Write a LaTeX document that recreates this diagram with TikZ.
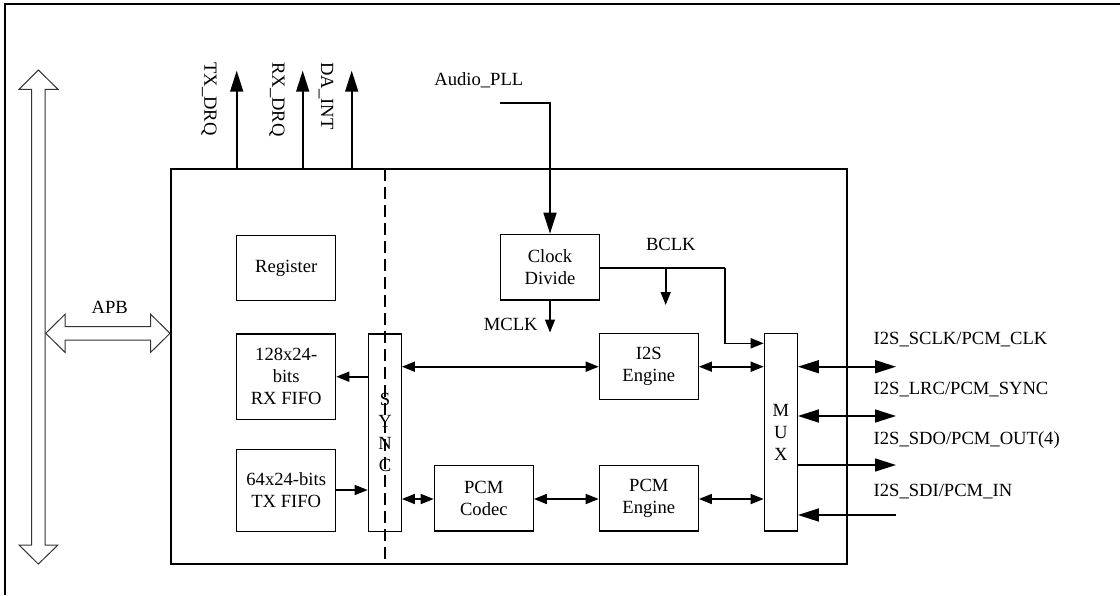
\documentclass[tikz,border=0pt]{standalone}
\usepackage{fontspec}
\setmainfont{Liberation Serif}
\usetikzlibrary{arrows.meta}
\newcommand\blk[6]{\node[blk, minimum width={(#4-#2)*0.5pt}, minimum height={(#5-#3)*0.5pt}] (#1) at ({(#2+#4)/2},{(#3+#5)/2}) {#6};}
\tikzset{
  blk/.style={draw, line width=0.6pt, inner sep=0pt, align=center, font=\fontsize{9.3}{11}\selectfont},
  lbl/.style={inner sep=0pt, font=\fontsize{9.3}{11}\selectfont},
  conn/.style={line width=0.8pt},
  small/.style={conn, -{Triangle[length=6.5pt,width=5pt]}},
  smallboth/.style={conn, {Triangle[length=6.5pt,width=5pt]}-{Triangle[length=6.5pt,width=5pt]}},
  big/.style={conn, -{Triangle[length=10.5pt,width=6.5pt]}},
  bigboth/.style={conn, {Triangle[length=10.5pt,width=6.5pt]}-{Triangle[length=10.5pt,width=6.5pt]}},
  hollow/.style={draw=black!80, line width=0.5pt, fill=white}
}
\begin{document}
\begin{tikzpicture}[x=0.5pt,y=-0.5pt]
\useasboundingbox (0,0) rectangle (1120,595);
% outer frame (left and top)
\draw[line width=1pt] (5,595) -- (5,3.5) -- (1120,3.5);
% main block
\blk{main}{170.7}{169}{846.7}{564}{}
\node[draw, line width=1pt, minimum width={676*0.5pt}, minimum height={395*0.5pt}, inner sep=0] at (main) {};
% dashed clock-domain line
\draw[line width=0.8pt, dash pattern=on 6pt off 3pt] (385,169) -- (385,564);
% APB bus arrows
\draw[hollow] (31.7,89.3) -- (19,89.3) -- (38.3,70) -- (58,89.3) -- (45,89.3) -- (45,545) -- (58,545) -- (38.3,564) -- (19,545) -- (31.7,545) -- cycle;
\draw[hollow] (45.7,333.3) -- (65,314.3) -- (65,326.7) -- (150.7,326.7) -- (150.7,314.3) -- (170,333.3) -- (150.7,352.3) -- (150.7,340) -- (65,340) -- (65,352.3) -- cycle;
\node[lbl] (apb) at (109.7,307.3) {APB};
% blocks
\blk{reg}{236.7}{235.5}{335.7}{300.7}{Register}
\blk{rx}{236.7}{334}{335.7}{419.3}{128x24-\\bits\\RX FIFO}
\blk{tx}{236.7}{449.3}{335.7}{531.7}{64x24-bits\\TX FIFO}
\node[blk, draw=none, font=\fontsize{9.3}{11}\selectfont, align=center] (synctxt) at (385,432.5) {S\\Y\\N\\C};
\blk{sync}{368.3}{334}{401.3}{531.7}{}
\blk{clk}{500.7}{234.3}{599.3}{300}{Clock\\Divide}
\blk{i2s}{599.3}{333.3}{698.3}{399.3}{I2S\\Engine}
\blk{codec}{434.3}{465.7}{533.3}{531}{PCM\\Codec}
\blk{pcm}{599.3}{465.7}{698.3}{531}{PCM\\Engine}
\blk{mux}{764.3}{333.3}{797.3}{531}{M\\U\\X}
% top outputs
\coordinate (txq) at (236.7,70.7);
\coordinate (rxq) at (302.7,70.7);
\coordinate (daq) at (351.7,70.7);
\draw[big] (main.north -| txq) -- (txq);
\draw[big] (main.north -| rxq) -- (rxq);
\draw[big] (main.north -| daq) -- (daq);
\node[lbl, rotate=-90, anchor=west] at (209,62) {TX\_DRQ};
\node[lbl, rotate=-90, anchor=west] at (277,62) {RX\_DRQ};
\node[lbl, rotate=-90, anchor=west] at (326,62) {DA\_INT};
% Audio PLL
\node[lbl] (pll) at (478.8,80) {Audio\_PLL};
\coordinate (pllin) at (500,102.7);
\draw[big] (pllin) -- (pllin -| clk.north) -- (clk.north);
% MCLK
\coordinate (mclk) at (550,332.5);
\draw[small] (clk.south) -- (mclk);
\node[lbl] at (510.8,324) {MCLK};
% BCLK
\node[lbl] at (670.8,244.3) {BCLK};
\coordinate (bk) at (599.3,267.7);
\coordinate (bkdown) at (665.7,305);
\draw[conn] (bk) -- (725,267.7);
\draw[small] (725,267.7) -- (725,343.3) -- (mux.west |- 0,343.3);
\draw[small] (bkdown |- bk) -- (bkdown);
% FIFO <-> SYNC
\draw[small] (sync.west |- 0,376.7) -- (rx.east |- 0,376.7);
\draw[small] (tx.east |- 0,490) -- (sync.west |- 0,490);
% data paths
\draw[smallboth] (sync.east |- 0,366.7) -- (i2s.west |- 0,366.7);
\draw[smallboth] (i2s.east |- 0,366.7) -- (mux.west |- 0,366.7);
\draw[smallboth] (sync.east |- 0,499) -- (codec.west |- 0,499);
\draw[smallboth] (codec.east |- 0,499) -- (pcm.west |- 0,499);
\draw[smallboth] (pcm.east |- 0,499) -- (mux.west |- 0,499);
% external pins
\coordinate (p1) at (896,366.7);
\coordinate (p2) at (896,416);
\coordinate (p3) at (896,465);
\coordinate (p4) at (896,515);
\draw[bigboth] (mux.east |- p1) -- (p1);
\draw[bigboth] (mux.east |- p2) -- (p2);
\draw[big] (mux.east |- p3) -- (p3);
\draw[big] (p4) -- (mux.east |- p4);
\node[lbl, anchor=west] at (873.3,340) {I2S\_SCLK/PCM\_CLK};
\node[lbl, anchor=west] at (873.3,389.3) {I2S\_LRC/PCM\_SYNC};
\node[lbl, anchor=west] at (873.3,440) {I2S\_SDO/PCM\_OUT(4)};
\node[lbl, anchor=west] at (873.3,491.7) {I2S\_SDI/PCM\_IN};
\end{tikzpicture}
\end{document}
